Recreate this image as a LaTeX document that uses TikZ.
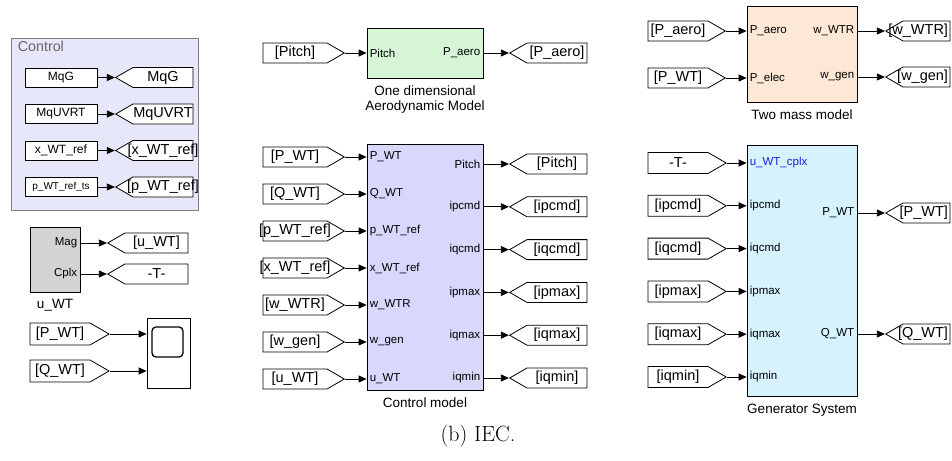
\documentclass[tikz,border=0pt]{standalone}
\usepackage{fontspec}
\newfontfamily\simfont{Liberation Sans}
\usepackage{xcolor}
\definecolor{subsysfill}{RGB}{231,231,250}
\definecolor{ctrlblue}{RGB}{216,216,252}
\definecolor{aerogreen}{RGB}{214,245,214}
\definecolor{masspeach}{RGB}{253,232,214}
\definecolor{gencyan}{RGB}{214,242,252}
\definecolor{blockgray}{RGB}{211,211,211}
\definecolor{portblue}{RGB}{30,30,230}
\usepackage{tikz}
\usetikzlibrary{arrows.meta}
\usetikzlibrary{positioning}
\usetikzlibrary{shapes.symbols}
\newcommand{\stepctrl}{37}
\newcommand{\stepgen}{42.8}
\newcommand{\tagtext}[2][60pt]{\makebox[#1]{#2}}
\newcommand{\tagtextr}[2][47pt]{\makebox[#1][r]{#2\hspace{2pt}}}
\tikzset{
    common/.style={draw, line width=0.8pt, inner sep=0pt},
    block/.style={common, minimum width=116pt},
    const/.style={common, fill=white, minimum width=72pt, minimum height=19pt,
        font=\simfont\fontsize{12}{14}\selectfont},
    tag/.style={common, fill=white, signal, signal pointer angle=60, minimum height=20pt,
        font=\simfont\fontsize{14.5}{16}\selectfont},
    gototag/.style={tag, signal to=west},
    fromtag/.style={tag, signal to=east},
    port/.style={inner sep=0pt, font=\simfont\fontsize{11.5}{13}\selectfont},
    portin/.style={port, anchor=west, xshift=3pt},
    portout/.style={port, anchor=east, xshift=-3pt},
    caption/.style={inner sep=1pt, align=center, font=\simfont\fontsize{13.5}{15}\selectfont},
    sig/.style={line width=0.8pt, -{Triangle[length=8pt, width=7pt]}},
}

\begin{document}
\begin{tikzpicture}[x=1pt, y=-1pt]
    \useasboundingbox (0,0) rectangle (952,460);

    % Control subsystem
    \node[common, draw=gray, fill=subsysfill, minimum width=187pt, minimum height=172pt] (control) at (104.5,124) {};
    \node[anchor=north west, inner sep=0pt, text=black!60, font=\simfont\fontsize{14.3}{16}\selectfont]
        (controllabel) at ([shift={(7,3)}]control.north west) {Control};
    \path
        (61,77.5) node[const] (cMqG) {MqG}
        ++(0,36.5) node[const] (cMqUVRT) {MqUVRT}
        ++(0,36.5) node[const] (cxref) {x\_WT\_ref}
        ++(0,36.5) node[const, font=\simfont\fontsize{10}{12}\selectfont] (cpref) {p\_WT\_ref\_ts};
    \path
        (163,77.5) node[gototag] (gMqG) {\tagtext{MqG}}
        ++(0,36.5) node[gototag] (gMqUVRT) {\tagtext{MqUVRT}}
        ++(0,36.5) node[gototag] (gxref) {\tagtext{[x\_WT\_ref]}}
        ++(0,36.5) node[gototag] (gpref) {\tagtext{[p\_WT\_ref]}};
    \draw[sig] (cMqG.east) -- (gMqG.west);
    \draw[sig] (cMqUVRT.east) -- (gMqUVRT.west);
    \draw[sig] (cxref.east) -- (gxref.west);
    \draw[sig] (cpref.east) -- (gpref.west);

    % voltage measurement
    \node[common, fill=blockgray, minimum width=50pt, minimum height=65pt] (uwt) at (55,259.5) {};
    \node[caption, below=6pt of uwt] (uwtcap) {u\_WT};
    \path
        (156.5,243) node[gototag] (guWTm) {\tagtext[63pt]{[u\_WT]}}
        ++(0,31) node[gototag] (gT) {\tagtext[63pt]{-T-}};
    \node[portout] (pMag) at (uwt.east |- guWTm) {Mag};
    \node[portout] (pCplx) at (uwt.east |- gT) {Cplx};
    \draw[sig] (uwt.east |- guWTm) -- (guWTm.west);
    \draw[sig] (uwt.east |- gT) -- (gT.west);

    % scope
    \node[common, fill=white, minimum width=43pt, minimum height=70pt] (scope) at (168.5,353) {};
    \node[draw, line width=1.3pt, rounded corners=4pt, minimum width=31pt, minimum height=30pt] (screen) at (167.5,342) {};
    \path
        (60,334) node[fromtag, minimum height=22pt] (fPWTs) {\tagtext{[P\_WT]}}
        ++(0,37) node[fromtag, minimum height=22pt] (fQWTs) {\tagtext{[Q\_WT]}};
    \draw[sig] (fPWTs.east) -- (fPWTs.east -| scope.west);
    \draw[sig] (fQWTs.east) -- (fQWTs.east -| scope.west);

    % aerodynamic model
    \node[block, fill=aerogreen, minimum height=50pt] (aero) at (425,53) {};
    \node[caption, below=6pt of aero] (aerocap) {One dimensional\\Aerodynamic Model};
    \node[fromtag] (fPitch) at (295,53) {\tagtext[64pt]{[Pitch]}};
    \node[gototag] (gPaero) at (557,53) {\tagtext{[P\_aero]}};
    \node[portin] (pPitchIn) at (aero.west |- fPitch) {Pitch};
    \node[portout] (pPaeroOut) at (aero.east |- gPaero) {P\_aero};
    \draw[sig] (fPitch.east) -- (fPitch.east -| aero.west);
    \draw[sig] (aero.east |- gPaero) -- (gPaero.west);

    % control model
    \node[block, fill=ctrlblue, minimum height=246pt] (ctrl) at (425,267) {};
    \node[caption, below=6pt of ctrl] (ctrlcap) {Control model};
    \path
        (295,157) node[fromtag] (fPWT) {\tagtext[64pt]{[P\_WT]}}
        ++(0,\stepctrl) node[fromtag] (fQWT) {\tagtext[64pt]{[Q\_WT]}}
        ++(0,\stepctrl) node[fromtag] (fpref) {\tagtext[64pt]{[p\_WT\_ref]}}
        ++(0,\stepctrl) node[fromtag] (fxref) {\tagtext[64pt]{[x\_WT\_ref]}}
        ++(0,\stepctrl) node[fromtag] (fwWTR) {\tagtext[64pt]{[w\_WTR]}}
        ++(0,\stepctrl) node[fromtag] (fwgen) {\tagtext[64pt]{[w\_gen]}}
        ++(0,\stepctrl) node[fromtag] (fuWT) {\tagtext[64pt]{[u\_WT]}};
    \node[portin] (pPWTin) at (ctrl.west |- fPWT) {P\_WT};
    \node[portin] (pQWTin) at (ctrl.west |- fQWT) {Q\_WT};
    \node[portin] (pprefin) at (ctrl.west |- fpref) {p\_WT\_ref};
    \node[portin] (pxrefin) at (ctrl.west |- fxref) {x\_WT\_ref};
    \node[portin] (pwWTRin) at (ctrl.west |- fwWTR) {w\_WTR};
    \node[portin] (pwgenin) at (ctrl.west |- fwgen) {w\_gen};
    \node[portin] (puWTin) at (ctrl.west |- fuWT) {u\_WT};
    \draw[sig] (fPWT.east) -- (fPWT.east -| ctrl.west);
    \draw[sig] (fQWT.east) -- (fQWT.east -| ctrl.west);
    \draw[sig] (fpref.east) -- (fpref.east -| ctrl.west);
    \draw[sig] (fxref.east) -- (fxref.east -| ctrl.west);
    \draw[sig] (fwWTR.east) -- (fwWTR.east -| ctrl.west);
    \draw[sig] (fwgen.east) -- (fwgen.east -| ctrl.west);
    \draw[sig] (fuWT.east) -- (fuWT.east -| ctrl.west);
    \path
        (557,164) node[gototag] (gPitch) {\tagtext{[Pitch]}}
        ++(0,\stepgen) node[gototag] (gipcmd) {\tagtext{[ipcmd]}}
        ++(0,\stepgen) node[gototag] (giqcmd) {\tagtext{[iqcmd]}}
        ++(0,\stepgen) node[gototag] (gipmax) {\tagtext{[ipmax]}}
        ++(0,\stepgen) node[gototag] (giqmax) {\tagtext{[iqmax]}}
        ++(0,\stepgen) node[gototag] (giqmin) {\tagtext{[iqmin]}};
    \node[portout] (pPitchOut) at (ctrl.east |- gPitch) {Pitch};
    \node[portout] (pipcmdOut) at (ctrl.east |- gipcmd) {ipcmd};
    \node[portout] (piqcmdOut) at (ctrl.east |- giqcmd) {iqcmd};
    \node[portout] (pipmaxOut) at (ctrl.east |- gipmax) {ipmax};
    \node[portout] (piqmaxOut) at (ctrl.east |- giqmax) {iqmax};
    \node[portout] (piqminOut) at (ctrl.east |- giqmin) {iqmin};
    \draw[sig] (ctrl.east |- gPitch) -- (gPitch.west);
    \draw[sig] (ctrl.east |- gipcmd) -- (gipcmd.west);
    \draw[sig] (ctrl.east |- giqcmd) -- (giqcmd.west);
    \draw[sig] (ctrl.east |- gipmax) -- (gipmax.west);
    \draw[sig] (ctrl.east |- giqmax) -- (giqmax.west);
    \draw[sig] (ctrl.east |- giqmin) -- (giqmin.west);

    % two mass model
    \node[common, fill=masspeach, minimum width=110pt, minimum height=96pt] (twomass) at (802,54) {};
    \node[caption, below=6pt of twomass] (twomasscap) {Two mass model};
    \path
        (678,31) node[fromtag] (fPaero) {\tagtext{[P\_aero]}}
        ++(0,47) node[fromtag] (fPelec) {\tagtext{[P\_WT]}};
    \path
        (926.5,31) node[gototag] (gwWTR) {\tagtextr{[w\_WTR]}}
        ++(0,46) node[gototag] (gwgen) {\tagtextr{[w\_gen]}};
    \node[portin] (pPaeroIn) at (twomass.west |- fPaero) {P\_aero};
    \node[portin] (pPelecIn) at (twomass.west |- fPelec) {P\_elec};
    \node[portout] (pwWTROut) at (twomass.east |- gwWTR) {w\_WTR};
    \node[portout] (pwgenOut) at (twomass.east |- gwgen) {w\_gen};
    \draw[sig] (fPaero.east) -- (fPaero.east -| twomass.west);
    \draw[sig] (fPelec.east) -- (fPelec.east -| twomass.west);
    \draw[sig] (twomass.east |- gwWTR) -- (gwWTR.west);
    \draw[sig] (twomass.east |- gwgen) -- (gwgen.west);

    % generator system
    \node[common, fill=gencyan, minimum width=110pt, minimum height=251pt] (gen) at (802,270.5) {};
    \node[caption, below=6pt of gen] (gencap) {Generator System};
    \path
        (678,163) node[fromtag, minimum height=21pt] (fgT) {\tagtext{-T-}}
        ++(0,\stepgen) node[fromtag, minimum height=21pt] (fgipcmd) {\tagtext{[ipcmd]}}
        ++(0,\stepgen) node[fromtag, minimum height=21pt] (fgiqcmd) {\tagtext{[iqcmd]}}
        ++(0,\stepgen) node[fromtag, minimum height=21pt] (fgipmax) {\tagtext{[ipmax]}}
        ++(0,\stepgen) node[fromtag, minimum height=21pt] (fgiqmax) {\tagtext{[iqmax]}}
        ++(0,\stepgen) node[fromtag, minimum height=21pt] (fgiqmin) {\tagtext{[iqmin]}};
    \node[portin, text=portblue] (pcplxIn) at (gen.west |- fgT) {u\_WT\_cplx};
    \node[portin] (pipcmdIn) at (gen.west |- fgipcmd) {ipcmd};
    \node[portin] (piqcmdIn) at (gen.west |- fgiqcmd) {iqcmd};
    \node[portin] (pipmaxIn) at (gen.west |- fgipmax) {ipmax};
    \node[portin] (piqmaxIn) at (gen.west |- fgiqmax) {iqmax};
    \node[portin] (piqminIn) at (gen.west |- fgiqmin) {iqmin};
    \draw[sig] (fgT.east) -- (fgT.east -| gen.west);
    \draw[sig] (fgipcmd.east) -- (fgipcmd.east -| gen.west);
    \draw[sig] (fgiqcmd.east) -- (fgiqcmd.east -| gen.west);
    \draw[sig] (fgipmax.east) -- (fgipmax.east -| gen.west);
    \draw[sig] (fgiqmax.east) -- (fgiqmax.east -| gen.west);
    \draw[sig] (fgiqmin.east) -- (fgiqmin.east -| gen.west);
    \path
        (926.5,213) node[gototag] (gPWT) {\tagtextr{[P\_WT]}}
        ++(0,121) node[gototag] (gQWT) {\tagtextr{[Q\_WT]}};
    \node[portout] (pPWTOut) at (gen.east |- gPWT) {P\_WT};
    \node[portout] (pQWTOut) at (gen.east |- gQWT) {Q\_WT};
    \draw[sig] (gen.east |- gPWT) -- (gPWT.west);
    \draw[sig] (gen.east |- gQWT) -- (gQWT.west);

    \node[inner sep=0pt, font=\fontsize{22}{26}\selectfont] (figcap) at (478,436) {(b) IEC.};
\end{tikzpicture}
\end{document}
